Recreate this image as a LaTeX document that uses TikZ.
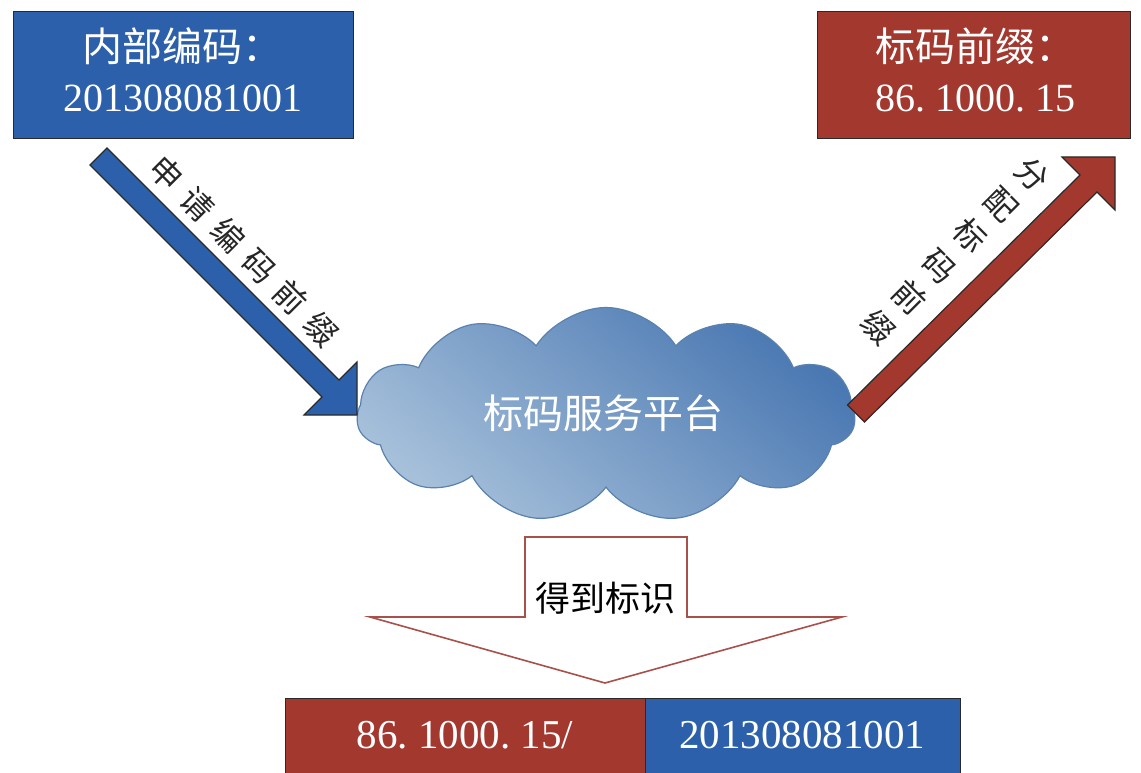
\documentclass[tikz,border=0pt]{standalone}
\usepackage{fontspec}
\setmainfont{Liberation Serif}
\newfontfamily\cjk{Noto Sans CJK SC}
\usetikzlibrary{shapes.symbols}

\definecolor{codeblue}{HTML}{2C60AA}
\definecolor{codered}{HTML}{A3382F}
\definecolor{edgedark}{HTML}{2A2A2A}
\definecolor{cloudlight}{HTML}{A6C0DA}
\definecolor{clouddark}{HTML}{4A78B2}
\definecolor{cloudedge}{HTML}{5A82AE}
\definecolor{outline}{HTML}{A8504A}
\definecolor{labelgray}{HTML}{262626}

% a period set in a half-width cell, as in the code strings
\newcommand\hdot{\makebox[0.5em][l]{.}}

\tikzset{
  codebox/.style={rectangle, draw=edgedark, line width=1.4pt, inner sep=0pt},
  bluebox/.style={codebox, fill=codeblue},
  redbox/.style={codebox, fill=codered},
  boxtext/.style={text=white, align=center, inner sep=0pt,
                  font=\fontsize{40}{50}\selectfont},
  blockarrow/.style={draw=edgedark, line width=1.2pt, line join=miter},
  diaglabel/.style={text=labelgray, inner sep=0pt,
                    font=\cjk\fontsize{32}{43.5}\selectfont},
  hollowarrow/.style={draw=outline, line width=1.6pt, fill=white, line join=miter}
}

\begin{document}
\begin{tikzpicture}[x=1pt, y=-1pt]
\useasboundingbox (0,0) rectangle (1141,773);
\fill[white] (0,0) rectangle (1141,773);

% internal code (top left)
\node[bluebox, minimum width=340pt, minimum height=127pt, anchor=north west]
  (internal) at (13,11) {};
\node[boxtext] (internaltext) at (183,70) {{\cjk 内部编码：}\\201308081001};

% code prefix (top right)
\node[redbox, minimum width=313pt, minimum height=127pt, anchor=north west]
  (prefix) at (817,11) {};
\node[boxtext] (prefixtext) at (975,70) {{\cjk 标码前缀：}\\86\hdot1000\hdot15};

% code service platform
\node[cloud, cloud puffs=11, cloud puff arc=115, aspect=2.3,
      minimum width=498pt, minimum height=215pt, inner sep=0pt,
      draw=cloudedge, line width=1.2pt,
      top color=clouddark, bottom color=cloudlight, shading angle=-40]
  (platform) at (606,415) {};
\node[text=white, inner sep=0pt, font=\cjk\fontsize{40}{48}\selectfont]
  (platformtext) at (603,413) {标码服务平台};

% request arrow: internal code -> platform
\draw[blockarrow, fill=codeblue]
  (107,148) -- (339,380) -- (357,362) -- (357,415) -- (304,415)
  -- (322,397) -- (90,165) -- cycle;
\node[diaglabel, rotate=-45] (requestlabel) at (244,251)
  {申\hspace{12pt}请\hspace{12pt}编\hspace{12pt}码\hspace{12pt}前\hspace{12pt}缀};

% assign arrow: platform -> code prefix
\draw[blockarrow, fill=codered]
  (847.5,405) -- (1080,175) -- (1062,157) -- (1115,157) -- (1115,210)
  -- (1097,192) -- (864.5,422) -- cycle;
\node[diaglabel, rotate=-45, align=center] (assignlabel) at (955,251)
  {分\\配\\标\\码\\前\\缀};

% result arrow
\draw[hollowarrow]
  (525,537) -- (687,537) -- (687,617) -- (842,617) -- (605,683)
  -- (370,617) -- (525,617) -- cycle;
\node[inner sep=0pt, text=black, font=\cjk\fontsize{35}{42}\selectfont]
  (resultlabel) at (605,598) {得到标识};

% resulting identifier
\node[redbox, minimum width=360pt, minimum height=85pt, anchor=north west]
  (idprefix) at (285,698) {};
\node[bluebox, minimum width=315pt, minimum height=85pt, anchor=north west]
  (idcode) at (645,698) {};
\node[boxtext, font=\fontsize{41}{50}\selectfont] (idprefixtext) at (465,735)
  {86\hdot1000\hdot15/};
\node[boxtext, font=\fontsize{41}{50}\selectfont] (idcodetext) at (802,735)
  {201308081001};
\end{tikzpicture}
\end{document}
